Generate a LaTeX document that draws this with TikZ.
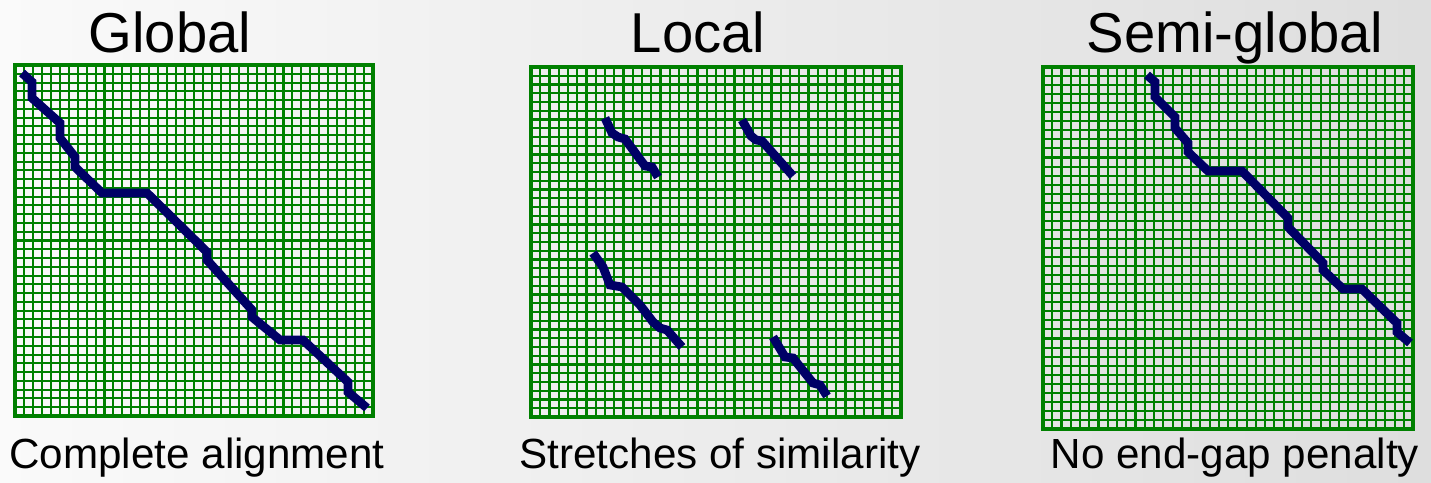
\documentclass[tikz,border=0pt]{standalone}
\usepackage{fontspec}
\setmainfont{Liberation Sans}
\definecolor{gridgreen}{HTML}{008000}
\definecolor{pathnavy}{HTML}{000066}
\tikzset{
    cell/.style={draw=gridgreen, line width=1.15pt},
    frame/.style={draw=gridgreen, line width=2pt},
    trace/.style={draw=pathnavy, line width=5pt, line join=miter},
    title/.style={anchor=base, font=\fontsize{32}{38}\selectfont},
    caption/.style={anchor=base, font=\fontsize{24}{29}\selectfont}
}
\begin{document}
\begin{tikzpicture}[x=0.02cm, y=-0.02cm]
    \useasboundingbox (0,0) rectangle (1431,483);
    \shade[left color=gray!4, right color=gray!26] (0,0) rectangle (1431,483);

    \node[title] (globaltitle) at (170,53) {Global};
    \node[title] (localtitle) at (698,53) {Local};
    \node[title] (semititle) at (1235,53) {Semi-global};

    \foreach \i in {1,...,39} {
        \draw[cell] ({15+\i*8.95},65) -- ({15+\i*8.95},416);
        \draw[cell] (15,{65+\i*8.775}) -- (373,{65+\i*8.775});
        \draw[cell] ({531+\i*9.25},67) -- ({531+\i*9.25},417);
        \draw[cell] (531,{67+\i*8.75}) -- (901,{67+\i*8.75});
        \draw[cell] ({1043+\i*9.25},67) -- ({1043+\i*9.25},429);
        \draw[cell] (1043,{67+\i*9.05}) -- (1413,{67+\i*9.05});
    }
    \draw[frame] (15,65) rectangle (373,416);
    \draw[frame] (531,67) rectangle (901,417);
    \draw[frame] (1043,67) rectangle (1413,429);

    \draw[trace] (22,73) -- (32,82) -- (32,98) -- (60,123) -- (60,138) -- (75,157) -- (75,167)
        -- (102,193) -- (147,193) -- (207,252) -- (207,260) -- (252,310) -- (252,317)
        -- (280,340) -- (303,340) -- (348,382) -- (348,392) -- (367,408);

    \draw[trace] (605,118) -- (612,133) -- (618,137) -- (625,139) -- (645,166) -- (652,167) -- (658,177);
    \draw[trace] (742,120) -- (751,136) -- (756,140) -- (762,141) -- (785,167) -- (793,176);
    \draw[trace] (593,253) -- (603,267) -- (610,285) -- (622,287) -- (640,305) -- (653,322)
        -- (660,328) -- (667,330) -- (682,347);
    \draw[trace] (773,337) -- (785,357) -- (793,358) -- (813,383) -- (820,385) -- (827,396);

    \draw[trace] (1147,75) -- (1155,82) -- (1155,97) -- (1175,117) -- (1175,128) -- (1188,143)
        -- (1188,152) -- (1208,171) -- (1242,171) -- (1288,218) -- (1288,227) -- (1323,263)
        -- (1323,270) -- (1343,289) -- (1362,289) -- (1397,323) -- (1397,332) -- (1410,343);

    \node[caption] (globalcap) at (197,468) {Complete alignment};
    \node[caption] (localcap) at (720,468) {Stretches of similarity};
    \node[caption] (semicap) at (1235,468) {No end-gap penalty};
\end{tikzpicture}
\end{document}
